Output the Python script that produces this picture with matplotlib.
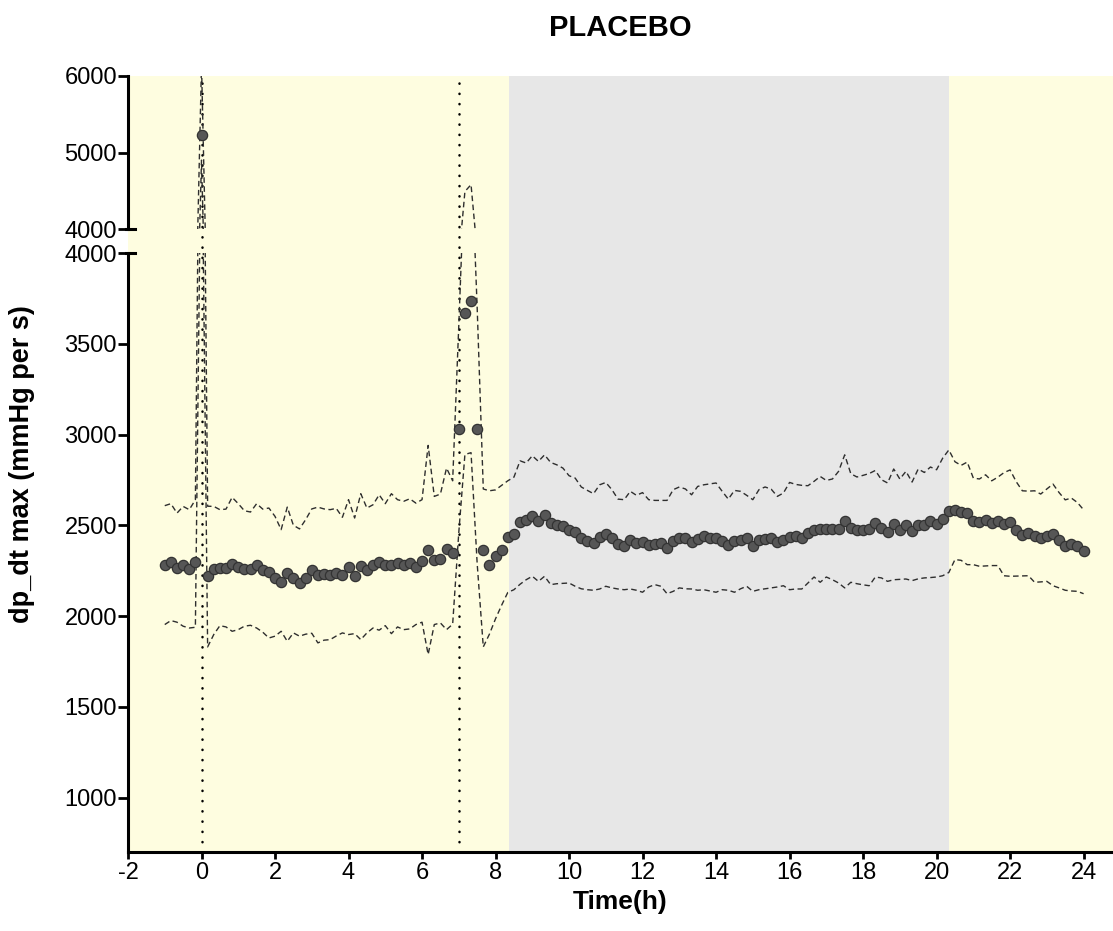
import numpy as np
import matplotlib.pyplot as plt
from matplotlib.lines import Line2D

plt.rcParams['font.family'] = ['Liberation Sans', 'DejaVu Sans']

# sampling times in minutes relative to dosing, every 10 min
minutes = np.arange(-60, 1441, 10)
hours = minutes / 60

mean_dpdt = [
    2279, 2297, 2264, 2279, 2259, 2295, 5230, 2219, 2259, 2264,
    2264, 2286, 2268, 2259, 2259, 2283, 2255, 2242, 2209, 2189,
    2237, 2209, 2182, 2209, 2252, 2228, 2230, 2228, 2237, 2226,
    2268, 2219, 2274, 2252, 2279, 2295, 2283, 2283, 2290, 2279,
    2292, 2270, 2303, 2362, 2307, 2316, 2369, 2347, 3030, 3672,
    3738, 3030, 2362, 2283, 2329, 2362, 2437, 2454, 2520, 2527,
    2553, 2522, 2558, 2512, 2503, 2494, 2476, 2461, 2430, 2411,
    2402, 2435, 2454, 2430, 2399, 2388, 2421, 2402, 2408, 2393,
    2399, 2402, 2375, 2411, 2430, 2430, 2406, 2424, 2439, 2430,
    2430, 2411, 2393, 2411, 2417, 2430, 2384, 2417, 2424, 2430,
    2406, 2417, 2435, 2440, 2430, 2457, 2476, 2479, 2479, 2481,
    2481, 2522, 2485, 2472, 2472, 2479, 2512, 2485, 2461, 2509,
    2476, 2503, 2470, 2503, 2503, 2522, 2509, 2534, 2577, 2582,
    2571, 2567, 2522, 2516, 2527, 2512, 2522, 2509, 2516, 2472,
    2448, 2457, 2439, 2430, 2443, 2454, 2417, 2384, 2399, 2384,
    2356,
]

upper_dpdt = [
    2608, 2619, 2567, 2604, 2586, 2640, 6150, 2605, 2604, 2586,
    2589, 2654, 2619, 2580, 2573, 2619, 2589, 2595, 2549, 2476,
    2600, 2500, 2480, 2531, 2590, 2600, 2590, 2586, 2593, 2544,
    2641, 2540, 2674, 2595, 2613, 2668, 2619, 2674, 2641, 2632,
    2646, 2622, 2641, 2940, 2659, 2672, 2815, 2745, 3600, 4490,
    4580, 3700, 2700, 2690, 2695, 2720, 2745, 2765, 2855, 2843,
    2883, 2852, 2888, 2846, 2833, 2815, 2773, 2760, 2711, 2692,
    2674, 2723, 2736, 2696, 2644, 2641, 2687, 2665, 2680, 2641,
    2637, 2637, 2637, 2696, 2711, 2700, 2668, 2714, 2723, 2728,
    2733, 2687, 2644, 2692, 2687, 2665, 2641, 2696, 2711, 2699,
    2659, 2678, 2736, 2725, 2720, 2718, 2742, 2769, 2747, 2755,
    2797, 2888, 2784, 2766, 2775, 2785, 2802, 2751, 2733, 2810,
    2755, 2797, 2738, 2810, 2791, 2821, 2806, 2870, 2915, 2850,
    2830, 2848, 2760, 2755, 2778, 2745, 2765, 2790, 2805, 2740,
    2690, 2688, 2690, 2672, 2700, 2727, 2680, 2640, 2650, 2625,
    2585,
]

lower_dpdt = [
    1953, 1975, 1966, 1944, 1934, 1938, 4900, 1830, 1898, 1947,
    1940, 1916, 1925, 1944, 1949, 1934, 1911, 1879, 1889, 1916,
    1861, 1907, 1889, 1900, 1905, 1852, 1867, 1870, 1890, 1907,
    1898, 1903, 1870, 1907, 1934, 1922, 1947, 1903, 1940, 1925,
    1929, 1953, 1966, 1788, 1953, 1962, 1925, 1955, 2460, 2890,
    2900, 2290, 1830, 1900, 1985, 2060, 2130, 2145, 2175, 2200,
    2219, 2191, 2219, 2173, 2178, 2180, 2182, 2164, 2150, 2145,
    2142, 2149, 2164, 2155, 2149, 2145, 2149, 2142, 2131, 2160,
    2173, 2164, 2123, 2136, 2155, 2150, 2149, 2142, 2145, 2138,
    2131, 2145, 2142, 2131, 2150, 2164, 2136, 2145, 2150, 2155,
    2160, 2167, 2145, 2149, 2149, 2182, 2215, 2186, 2215, 2200,
    2182, 2155, 2186, 2178, 2172, 2167, 2215, 2210, 2191, 2200,
    2202, 2204, 2195, 2205, 2210, 2212, 2215, 2222, 2240, 2311,
    2307, 2283, 2283, 2274, 2276, 2278, 2278, 2222, 2219, 2220,
    2221, 2222, 2186, 2188, 2191, 2167, 2155, 2142, 2138, 2136,
    2123,
]

# light/dark periods and dosing times (h)
dark_start, dark_end = 8.37, 20.35
dose_times = [0, 7]

xmin, xmax = -2, 24.8
yellow = '#fefde0'
grey = '#e7e7e7'

W, H = 1113, 931
fig = plt.figure(figsize=(W / 100, H / 100), dpi=100)


def box(left, top, right, bottom):
    return [left / W, 1 - bottom / H, (right - left) / W, (bottom - top) / H]


# background shading behind both halves of the broken axis
bg = fig.add_axes(box(128, 76, 1113, 852), zorder=0)
bg.set_xlim(xmin, xmax)
bg.set_ylim(0, 1)
bg.axis('off')
bg.axvspan(xmin, dark_start, color=yellow, lw=0)
bg.axvspan(dark_start, dark_end, color=grey, lw=0)
bg.axvspan(dark_end, xmax, color=yellow, lw=0)
for t in dose_times:
    bg.axvline(t, color='black', lw=1.8, linestyle=(0, (0.1, 4)),
               dash_capstyle='round')

ax_hi = fig.add_axes(box(128, 76, 1113, 229), zorder=1)
ax_lo = fig.add_axes(box(128, 253, 1113, 852), zorder=1)

for ax in (ax_hi, ax_lo):
    ax.patch.set_visible(False)
    ax.plot(hours, upper_dpdt, color='#2e2e2e', lw=1.0, dashes=(4, 2.5))
    ax.plot(hours, lower_dpdt, color='#2e2e2e', lw=1.0, dashes=(4, 2.5))
    ax.plot(hours, mean_dpdt, 'o', ms=7.4, mfc='#565656', mec='#333333',
            mew=0.9, zorder=3)
    ax.set_xlim(xmin, xmax)
    ax.spines[['top', 'right']].set_visible(False)
    ax.spines['left'].set_linewidth(2.2)
    ax.tick_params(axis='y', direction='out', length=7, width=2,
                   labelsize=17, pad=1)

ax_hi.set_ylim(4000, 6000)
ax_hi.set_yticks([4000, 5000, 6000])
ax_hi.spines['bottom'].set_visible(False)
ax_hi.set_xticks([])

ax_lo.set_ylim(700, 4000)
ax_lo.set_yticks(np.arange(1000, 4001, 500))
ax_lo.spines['bottom'].set_linewidth(2.2)
ax_lo.set_xticks(np.arange(-2, 25, 2))
ax_lo.set_xticklabels([str(v) for v in range(-2, 25, 2)])
ax_lo.tick_params(axis='x', direction='out', length=5, width=2,
                  labelsize=17, pad=2)

# caps marking the axis break
for y in (229, 253):
    fig.add_artist(Line2D([126 / W, 135 / W], [1 - y / H, 1 - y / H],
                          color='black', lw=2.2, transform=fig.transFigure))

fig.text(620 / W, 1 - 28 / H, 'PLACEBO', ha='center', va='center',
         fontsize=21, fontweight='bold')
fig.text(620 / W, 1 - 902 / H, 'Time(h)', ha='center', va='center',
         fontsize=19, fontweight='bold')
fig.text(22 / W, 1 - 464 / H, 'dp_dt max (mmHg per s)', ha='center',
         va='center', rotation=90, fontsize=19.5, fontweight='bold')

fig.savefig('out.png', dpi=100)
